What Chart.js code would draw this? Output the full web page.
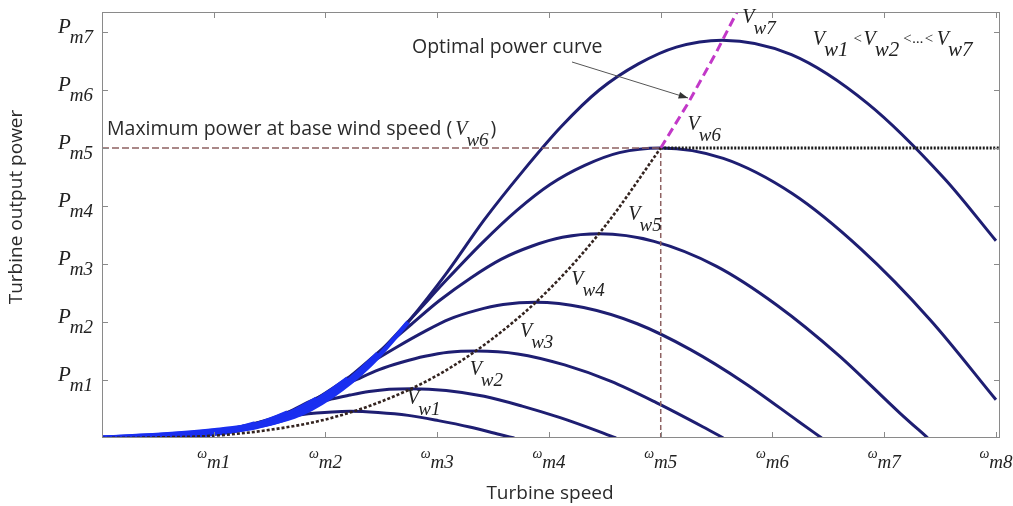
<!DOCTYPE html>
<html>
<head>
<meta charset="utf-8">
<script src="https://cdn.jsdelivr.net/npm/chart.js@4/dist/chart.umd.min.js"></script>
<style>
  html, body { margin: 0; padding: 0; background: #fff; }
  #wrap { width: 1013px; height: 506px; }
</style>
</head>
<body>
<div id="wrap"><canvas id="powerChart"></canvas></div>
<script>
// tick values and their subscript labels
const xTickValues = [1, 2, 3, 4, 5, 6, 7, 8];
const xTickSubs = ['m1', 'm2', 'm3', 'm4', 'm5', 'm6', 'm7', 'm8'];
const yTickValues = [1, 2, 3, 4, 5, 6, 7];
const yTickSubs = ['m1', 'm2', 'm3', 'm4', 'm5', 'm6', 'm7'];

// turbine power curves, one per wind speed
const vw1Speed = [0, 0.41, 0.69, 0.82, 0.96, 1.10, 1.23, 1.37, 1.51, 1.65, 1.78, 1.92, 2.06, 2.22, 2.47, 2.74, 3.01, 3.29, 3.56, 3.69];
const vw1Power = [0, 0.01, 0.025, 0.05, 0.085, 0.13, 0.19, 0.25, 0.31, 0.36, 0.40, 0.43, 0.45, 0.46, 0.44, 0.39, 0.30, 0.19, 0.06, 0];
const vw2Speed = [0, 0.51, 0.86, 1.02, 1.20, 1.37, 1.54, 1.71, 1.88, 2.05, 2.22, 2.39, 2.57, 2.77, 3.08, 3.42, 3.76, 4.10, 4.45, 4.60];
const vw2Power = [0, 0.02, 0.05, 0.09, 0.16, 0.25, 0.35, 0.47, 0.57, 0.67, 0.74, 0.80, 0.84, 0.85, 0.82, 0.72, 0.55, 0.35, 0.11, 0];
const vw3Speed = [0, 0.62, 1.04, 1.24, 1.45, 1.66, 1.86, 2.07, 2.28, 2.48, 2.69, 2.89, 3.10, 3.35, 3.72, 4.14, 4.55, 4.96, 5.38, 5.56];
const vw3Power = [0, 0.03, 0.08, 0.16, 0.28, 0.44, 0.63, 0.82, 1.01, 1.18, 1.31, 1.41, 1.48, 1.50, 1.45, 1.26, 0.98, 0.61, 0.19, 0];
const vw4Speed = [0, 0.72, 1.20, 1.44, 1.68, 1.92, 2.16, 2.39, 2.64, 2.88, 3.11, 3.35, 3.59, 3.88, 4.31, 4.79, 5.27, 5.75, 6.23, 6.44];
const vw4Power = [0, 0.05, 0.13, 0.24, 0.43, 0.68, 0.98, 1.28, 1.57, 1.83, 2.05, 2.20, 2.30, 2.34, 2.25, 1.97, 1.52, 0.95, 0.29, 0];
const vw5Speed = [0, 0.82, 1.38, 1.65, 1.92, 2.20, 2.47, 2.75, 3.02, 3.30, 3.57, 3.85, 4.12, 4.45, 4.94, 5.50, 6.04, 6.59, 7.14, 7.39];
const vw5Power = [0, 0.07, 0.19, 0.36, 0.65, 1.03, 1.47, 1.93, 2.37, 2.76, 3.08, 3.31, 3.46, 3.52, 3.39, 2.96, 2.29, 1.43, 0.43, 0];
const vw6Speed = [0, 0.93, 1.55, 1.85, 2.16, 2.47, 2.78, 3.09, 3.40, 3.71, 4.01, 4.32, 4.63, 5.00, 5.56, 6.18, 6.79, 7.41, 8.00];
const vw6Power = [0, 0.11, 0.27, 0.52, 0.92, 1.46, 2.09, 2.74, 3.36, 3.92, 4.37, 4.70, 4.92, 5.00, 4.82, 4.21, 3.26, 2.04, 0.66];
const vw7Speed = [0, 1.03, 1.72, 2.05, 2.40, 2.74, 3.09, 3.42, 3.77, 4.11, 4.45, 4.80, 5.14, 5.55, 6.17, 6.85, 7.54, 8.00];
const vw7Power = [0, 0.14, 0.37, 0.71, 1.26, 2.00, 2.86, 3.76, 4.61, 5.37, 6.00, 6.45, 6.74, 6.86, 6.61, 5.77, 4.47, 3.40];

// optimal power curve (below and above base speed)
const optSpeed = [0, 0.5, 1, 1.5, 2, 2.5, 3, 3.5, 4, 4.5, 5];
const optPower = [0, 0.01, 0.04, 0.14, 0.32, 0.63, 1.08, 1.72, 2.56, 3.65, 5.0];
const optHighSpeed = [5, 5.25, 5.5, 5.75];
const optHighPower = [5, 5.79, 6.66, 7.60];

// base wind speed limit lines
const baseSpeed = 5;
const basePower = 5;
const speedMax = 8.036;
const powerMax = 7.345;

const curves = [
  [vw1Speed, vw1Power], [vw2Speed, vw2Power], [vw3Speed, vw3Power], [vw4Speed, vw4Power],
  [vw5Speed, vw5Power], [vw6Speed, vw6Power], [vw7Speed, vw7Power]
];

const pts = (xs, ys) => xs.map((x, i) => ({ x: x, y: ys[i] }));

const navy = '#1e1e72';
const bright = '#1a2ff0';

const curveSets = curves.map(([xs, ys], i) => {
  const peak = xs[ys.indexOf(Math.max(...ys))];
  const cut = 0.52 * peak;  // overlapping rising part shows as bright blue
  return {
    label: 'Vw' + (i + 1),
    data: pts(xs, ys),
    borderColor: navy,
    borderWidth: 3,
    pointRadius: 0,
    cubicInterpolationMode: 'monotone',
    segment: {
      borderColor: c => c.p1.parsed.x <= cut ? bright : navy,
      borderWidth: c => c.p1.parsed.x <= cut ? 4.5 : 3
    }
  };
}).reverse();   // largest wind speed drawn on top

const datasets = [
  { label: 'opt', data: pts(optSpeed, optPower), borderColor: '#33231f', borderWidth: 2.6, borderDash: [3, 2], pointRadius: 0, cubicInterpolationMode: 'monotone' },
  { label: 'optHigh', data: pts(optHighSpeed, optHighPower), borderColor: '#c238c8', borderWidth: 3, borderDash: [9, 5], pointRadius: 0 },
  { label: 'baseH', data: [{ x: 0, y: basePower }, { x: baseSpeed, y: basePower }], borderColor: '#8e6262', borderWidth: 1.5, borderDash: [7, 3], pointRadius: 0 },
  { label: 'baseV', data: [{ x: baseSpeed, y: 0 }, { x: baseSpeed, y: basePower }], borderColor: '#8e6262', borderWidth: 1.5, borderDash: [5, 3], pointRadius: 0 },
  { label: 'limit', data: [{ x: baseSpeed, y: basePower }, { x: speedMax, y: basePower }], borderColor: '#1b1b1b', borderWidth: 3.2, borderDash: [2, 1.5], pointRadius: 0 }
].concat(curveSets);

const serif = "'Liberation Serif', 'DejaVu Serif', serif";
const sans = "'Open Sans', 'DejaVu Sans', sans-serif";

// draw a run of text pieces left to right; each piece has its own font and vertical shift
function runWidth(ctx, parts) {
  let w = 0;
  parts.forEach(p => { ctx.font = p.font; w += ctx.measureText(p.t).width + (p.gap || 0); });
  return w;
}
function drawRun(ctx, parts, x, y) {
  parts.forEach(p => {
    ctx.font = p.font;
    ctx.fillText(p.t, x, y + (p.dy || 0));
    x += ctx.measureText(p.t).width + (p.gap || 0);
  });
  return x;
}
function vLabel(sub, after, subSize) {
  return [
    { t: 'V', font: 'italic 20px ' + serif, gap: -1 },
    { t: sub, font: 'italic ' + (subSize || 19) + 'px ' + serif, dy: 11, gap: after || 0 }
  ];
}

const annotations = {
  id: 'annotations',
  afterDatasetsDraw(chart) {
    const { ctx, chartArea: a, scales: { x, y } } = chart;
    ctx.save();
    ctx.setLineDash([]);

    // box and inward ticks
    ctx.strokeStyle = '#8a8a8a';
    ctx.lineWidth = 1;
    ctx.strokeRect(a.left + 0.5, a.top + 0.5, a.right - a.left - 1, a.bottom - a.top - 1);
    ctx.beginPath();
    xTickValues.forEach(v => {
      const px = Math.round(x.getPixelForValue(v)) + 0.5;
      ctx.moveTo(px, a.bottom); ctx.lineTo(px, a.bottom - 6);
      ctx.moveTo(px, a.top); ctx.lineTo(px, a.top + 6);
    });
    yTickValues.forEach(v => {
      const py = Math.round(y.getPixelForValue(v)) + 0.5;
      ctx.moveTo(a.left, py); ctx.lineTo(a.left + 6, py);
      ctx.moveTo(a.right, py); ctx.lineTo(a.right - 6, py);
    });
    ctx.stroke();

    ctx.fillStyle = '#222';
    ctx.textBaseline = 'alphabetic';
    ctx.textAlign = 'left';

    // x tick labels: small omega with subscript
    xTickValues.forEach((v, i) => {
      const parts = [
        { t: '\u03c9', font: 'italic 14px ' + serif, dy: 0 },
        { t: xTickSubs[i], font: 'italic 19px ' + serif, dy: 10 }
      ];
      const w = runWidth(ctx, parts);
      drawRun(ctx, parts, x.getPixelForValue(v) - w / 2, a.bottom + 20);
    });

    // y tick labels: P with subscript
    yTickValues.forEach((v, i) => {
      const parts = [
        { t: 'P', font: 'italic 21px ' + serif, gap: -1 },
        { t: yTickSubs[i], font: 'italic 19px ' + serif, dy: 10 }
      ];
      const w = runWidth(ctx, parts);
      drawRun(ctx, parts, a.left - 9 - w, y.getPixelForValue(v) + 1);
    });

    // wind speed labels on the curves
    const vPos = [[2.73, 0.59], [3.29, 1.09], [3.74, 1.74], [4.20, 2.64], [4.71, 3.76], [5.24, 5.31], [5.73, 7.16]];
    vPos.forEach(([vx, vy], i) => {
      drawRun(ctx, vLabel('w' + (i + 1)), x.getPixelForValue(vx), y.getPixelForValue(vy));
    });

    // ordering note in the top right
    const small = 'italic 15px ' + serif;
    drawRun(ctx, vLabel('w1', 4, 21).concat([{ t: '<', font: small, dy: -2, gap: 1 }])
      .concat(vLabel('w2', 3, 21)).concat([{ t: '<...<', font: small, dy: -2, gap: 3 }]).concat(vLabel('w7', 0, 21)),
      x.getPixelForValue(6.36), y.getPixelForValue(6.78));

    // text notes
    const noteFont = '19.5px ' + sans;
    ctx.fillStyle = '#2a2a2a';
    ctx.font = noteFont;
    ctx.fillText('Optimal power curve', x.getPixelForValue(2.774), y.getPixelForValue(6.64));
    const end = drawRun(ctx, [
      { t: 'Maximum power at base wind speed (', font: noteFont, gap: 3 }
    ].concat(vLabel('w6', 2)), x.getPixelForValue(0.045), y.getPixelForValue(5.22));
    ctx.font = noteFont;
    ctx.fillText(')', end, y.getPixelForValue(5.22));

    // arrow to the optimal curve
    const x0 = x.getPixelForValue(4.206), y0 = y.getPixelForValue(6.483);
    const x1 = x.getPixelForValue(5.244), y1 = y.getPixelForValue(5.862);
    const ang = Math.atan2(y1 - y0, x1 - x0);
    ctx.strokeStyle = '#555';
    ctx.lineWidth = 1;
    ctx.beginPath(); ctx.moveTo(x0, y0); ctx.lineTo(x1, y1); ctx.stroke();
    ctx.fillStyle = '#333';
    ctx.beginPath();
    ctx.moveTo(x1, y1);
    ctx.lineTo(x1 - 10 * Math.cos(ang - 0.35), y1 - 10 * Math.sin(ang - 0.35));
    ctx.lineTo(x1 - 10 * Math.cos(ang + 0.35), y1 - 10 * Math.sin(ang + 0.35));
    ctx.closePath(); ctx.fill();

    // axis titles
    ctx.fillStyle = '#2a2a2a';
    ctx.font = '19px ' + sans;
    ctx.textAlign = 'center';
    ctx.textBaseline = 'middle';
    ctx.fillText('Turbine speed', (a.left + a.right) / 2 - 1, 494);
    ctx.translate(17, 207);
    ctx.rotate(-Math.PI / 2);
    ctx.fillText('Turbine output power', 0, 0);
    ctx.restore();
  }
};

new Chart(document.getElementById('powerChart'), {
  type: 'line',
  data: { datasets: datasets },
  options: {
    responsive: true,
    maintainAspectRatio: false,
    animation: false,
    layout: { padding: { left: 102, right: 13, top: 12, bottom: 68 } },
    plugins: { legend: { display: false }, tooltip: { enabled: false } },
    scales: {
      x: { type: 'linear', display: false, min: 0, max: speedMax },
      y: { type: 'linear', display: false, min: 0, max: powerMax }
    }
  },
  plugins: [annotations]
});
</script>
</body>
</html>
